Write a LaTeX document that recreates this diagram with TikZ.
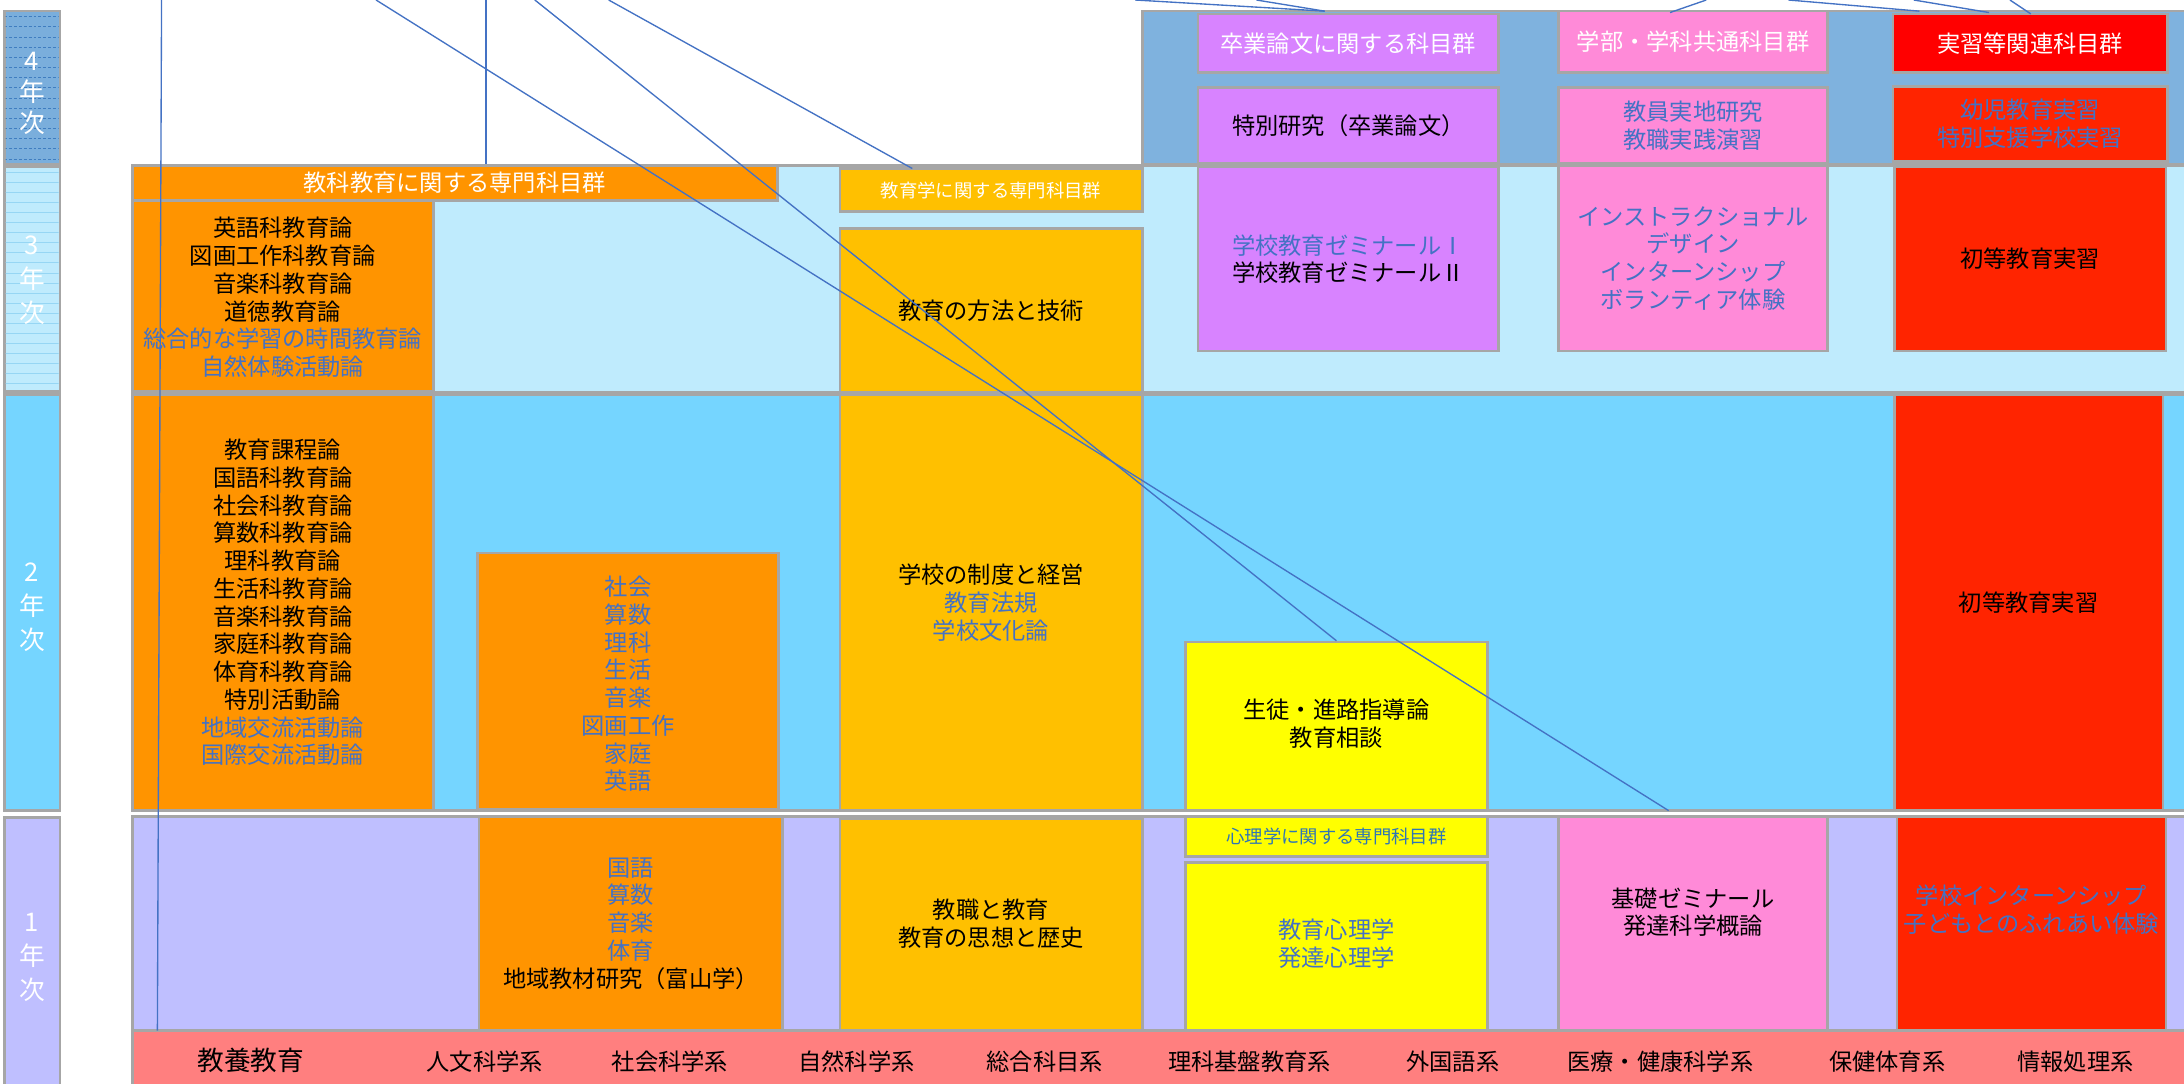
\documentclass[tikz,border=0pt]{standalone}
\usepackage{fontspec}
\newfontfamily\jpn{Noto Sans CJK JP}
\usetikzlibrary{fit,calc}
\definecolor{bgray}{HTML}{A6A6A6}
\definecolor{tblue}{HTML}{4472C4}
\definecolor{hblue}{HTML}{2E75B6}
\definecolor{cblue}{HTML}{4472C4}
\definecolor{corange}{HTML}{FF9400}
\definecolor{cgold}{HTML}{FFC000}
\definecolor{cyellow}{HTML}{FFFF00}
\definecolor{cpurple}{HTML}{D883FF}
\definecolor{cpink}{HTML}{FF8AD8}
\definecolor{cred}{HTML}{FF0000}
\definecolor{cred2}{HTML}{FF2400}
\definecolor{band4}{HTML}{7FB2DE}
\definecolor{band3}{HTML}{BFEBFD}
\definecolor{band2}{HTML}{75D5FF}
\definecolor{band1}{HTML}{BFBFFF}
\definecolor{bandk}{HTML}{FF7F7F}
\definecolor{yr4}{HTML}{7AAEDC}
\definecolor{dash4}{HTML}{3F7DC0}
\definecolor{line3}{HTML}{96D6F4}
% name, x1, y1, x2, y2, fill, text, text yshift
\newcommand\subj[8]{%
  \node[cell, fill=#6, fit={(#2,#3) (#4,#5)}] (#1) {};
  \node[txt] (#1t) at ([yshift=#8]#1.center) {#7};
}
\newcommand\bl[1]{\textcolor{tblue}{#1}}
\newcommand\wh[1]{\textcolor{white}{#1}}
\begin{document}
\begin{tikzpicture}[x=0.02cm,y=-0.02cm,
  cell/.style={draw=bgray,line width=1.1pt,inner sep=0pt},
  txt/.style={align=center,inner sep=0pt,font=\jpn\fontsize{9.5}{11.34}\selectfont},
  smalltxt/.style={align=center,inner sep=0pt,font=\jpn\fontsize{7.5}{9}\selectfont},
  yrtxt/.style={align=center,inner sep=0pt,text=white,font=\jpn\fontsize{10.5}{13.9}\selectfont},
  ktxt/.style={inner sep=0pt,font=\jpn\fontsize{9.5}{11.34}\selectfont},
  conn/.style={draw=cblue,line width=0.55pt}]
\clip (0,0) rectangle (1568,778);
\fill[white] (0,0) rectangle (1568,778);

% ---------- background bands ----------
\node[cell, fill=band4, fit={(820,8) (1600,118)}] (b4) {};
\node[cell, fill=band3, fit={(95,119) (1600,282)}] (b3) {};
\node[cell, fill=band2, fit={(95,283) (1600,582)}] (b2) {};
\node[cell, fill=band1, fit={(95,586) (1600,740)}] (b1) {};
\node[cell, fill=bandk, fit={(95,740) (1600,800)}] (bk) {};

% ---------- year column ----------
\node[cell, fill=yr4, fit={(3,8) (43,118)}] (y4) {};
\begin{scope}
  \clip (4,9) rectangle (42,117);
  \foreach \yy in {12,19.3,...,118}
    \draw[dash4, line width=0.35pt, dash pattern=on 1.2pt off 0.8pt] (3,\yy) -- (43,\yy);
\end{scope}
\node[cell, fill=band3, fit={(3,120) (43,281)}] (y3) {};
\begin{scope}
  \clip (4,121) rectangle (42,280);
  \foreach \yy in {124,131.2,...,281}
    \draw[line3, line width=0.4pt] (3,\yy) -- (43,\yy);
\end{scope}
\node[cell, fill=band2, fit={(3,283) (43,582)}] (y2) {};
\node[cell, fill=band1, fit={(3,587) (43,800)}] (y1) {};
\node[yrtxt, font=\jpn\fontsize{10.5}{12.5}\selectfont] (y4t) at (23,67) {4\\年\\次};
\node[yrtxt] (y3t) at (23,201) {3\\年\\次};
\node[yrtxt] (y2t) at (23,436) {2\\年\\次};
\node[yrtxt] (y1t) at (23,687) {1\\年\\次};

% ---------- 4th year ----------
\subj{sotsuh}{860}{10}{1076}{52}{cpurple}{\wh{卒業論文に関する科目群}}{0pt}
\subj{tokuken}{860}{63}{1076}{117}{cpurple}{特別研究（卒業論文）}{0pt}
\subj{gakubuh}{1119}{8}{1312}{52}{cpink}{\wh{学部・学科共通科目群}}{0pt}
\subj{kyoin}{1119}{63}{1312}{117}{cpink}{\bl{教員実地研究}\\\bl{教職実践演習}}{0pt}
\subj{jisshuh}{1359}{10}{1556}{52}{cred}{\wh{実習等関連科目群}}{0pt}
\subj{yoji}{1359}{62}{1556}{116}{cred2}{\bl{幼児教育実習}\\\bl{特別支援学校実習}}{0pt}

% ---------- 3rd year ----------
\subj{kkhead}{95}{119}{558}{144}{corange}{\wh{教科教育に関する専門科目群}}{0pt}
\subj{k3}{95}{144}{311}{281}{corange}{英語科教育論\\図画工作科教育論\\音楽科教育論\\道徳教育論\\\bl{総合的な学習の時間教育論}\\\bl{自然体験活動論}}{-0.02cm}
\node[cell, fill=cgold, fit={(603,121) (820,152)}] (kghead) {};
\node[smalltxt, text=white] (kgheadt) at (kghead.center) {教育学に関する専門科目群};
\subj{hoho}{603}{164}{820}{282}{cgold}{教育の方法と技術}{0pt}
\subj{semi}{860}{120}{1076}{252}{cpurple}{\bl{学校教育ゼミナールⅠ}\\学校教育ゼミナールⅡ}{0pt}
\subj{inst}{1119}{119}{1312}{252}{cpink}{\bl{インストラクショナル}\\\bl{デザイン}\\\bl{インターンシップ}\\\bl{ボランティア体験}}{0pt}
\subj{shoto3}{1360}{120}{1555}{252}{cred2}{初等教育実習}{0pt}

% ---------- 2nd year ----------
\subj{k2}{95}{283}{311}{582}{corange}{教育課程論\\国語科教育論\\社会科教育論\\算数科教育論\\理科教育論\\生活科教育論\\音楽科教育論\\家庭科教育論\\体育科教育論\\特別活動論\\\bl{地域交流活動論}\\\bl{国際交流活動論}}{0pt}
\subj{k2sub}{343}{397}{559}{581}{corange}{\bl{社会}\\\bl{算数}\\\bl{理科}\\\bl{生活}\\\bl{音楽}\\\bl{図画工作}\\\bl{家庭}\\\bl{英語}}{-0.04cm}
\subj{seido}{603}{283}{820}{582}{cgold}{学校の制度と経営\\\bl{教育法規}\\\bl{学校文化論}}{0pt}
\subj{seito}{851}{461}{1068}{582}{cyellow}{生徒・進路指導論\\教育相談}{0.04cm}
\subj{shoto2}{1360}{283}{1553}{582}{cred2}{初等教育実習}{0pt}

% ---------- 1st year ----------
\subj{k1}{344}{586}{562}{740}{corange}{\bl{国語}\\\bl{算数}\\\bl{音楽}\\\bl{体育}\\地域教材研究（富山学）}{0pt}
\subj{kyosho}{603}{588}{820}{740}{cgold}{教職と教育\\教育の思想と歴史}{0.02cm}
\node[cell, fill=cyellow, fit={(851,586) (1068,615)}] (shinh) {};
\node[smalltxt, text=hblue] (shinht) at (shinh.center) {心理学に関する専門科目群};
\subj{shinri}{851}{619}{1068}{740}{cyellow}{\bl{教育心理学}\\\bl{発達心理学}}{0.04cm}
\subj{kiso}{1119}{586}{1312}{740}{cpink}{基礎ゼミナール\\発達科学概論}{0.16cm}
\subj{intern}{1362}{586}{1555}{740}{cred2}{\bl{学校インターンシップ}\\\bl{子どもとのふれあい体験}}{0.2cm}

% ---------- general education row ----------
\node[ktxt, font=\jpn\fontsize{10.9}{13}\selectfont] (kyoyo) at (180,761) {教養教育};
\node[ktxt] (g1) at (348,762) {人文科学系};
\node[ktxt] (g2) at (481,762) {社会科学系};
\node[ktxt] (g3) at (615,762) {自然科学系};
\node[ktxt] (g4) at (750,762) {総合科目系};
\node[ktxt] (g5) at (897,762) {理科基盤教育系};
\node[ktxt] (g6) at (1043,762) {外国語系};
\node[ktxt] (g7) at (1192,762) {医療・健康科学系};
\node[ktxt] (g8) at (1355,762) {保健体育系};
\node[ktxt] (g9) at (1490,762) {情報処理系};

% ---------- connectors ----------
\coordinate (a0) at (116,0);
\coordinate (a1) at (113,740);
\coordinate (bb0) at (349,0);
\coordinate (c0) at (437,0);
\coordinate (c1) at (655,121);
\coordinate (d0) at (270,0);
\coordinate (d1) at (1198,582);
\coordinate (e0) at (384,0);
\coordinate (t1) at (815,0);
\coordinate (t2) at (902,0);
\coordinate (tm) at (951,8);
\coordinate (t3) at (1225,0);
\coordinate (t3e) at (1199,9);
\coordinate (t4) at (1284,0);
\coordinate (t4e) at (1378,8);
\coordinate (t5) at (1374,0);
\coordinate (t5e) at (1428,9);
\coordinate (t6) at (1443,0);
\coordinate (t6e) at (1458,10);
\draw[conn] (a0) -- (a1);
\draw[conn] (bb0) -- (bb0 |- kkhead.north);
\draw[conn] (c0) -- (c1);
\draw[conn] (d0) -- (d1);
\draw[conn] (e0) -- (seito.north);
\draw[conn] (t1) -- (tm);
\draw[conn] (t2) -- (tm);
\draw[conn] (t3) -- (t3e);
\draw[conn] (t4) -- (t4e);
\draw[conn] (t5) -- (t5e);
\draw[conn] (t6) -- (t6e);
\end{tikzpicture}
\end{document}
